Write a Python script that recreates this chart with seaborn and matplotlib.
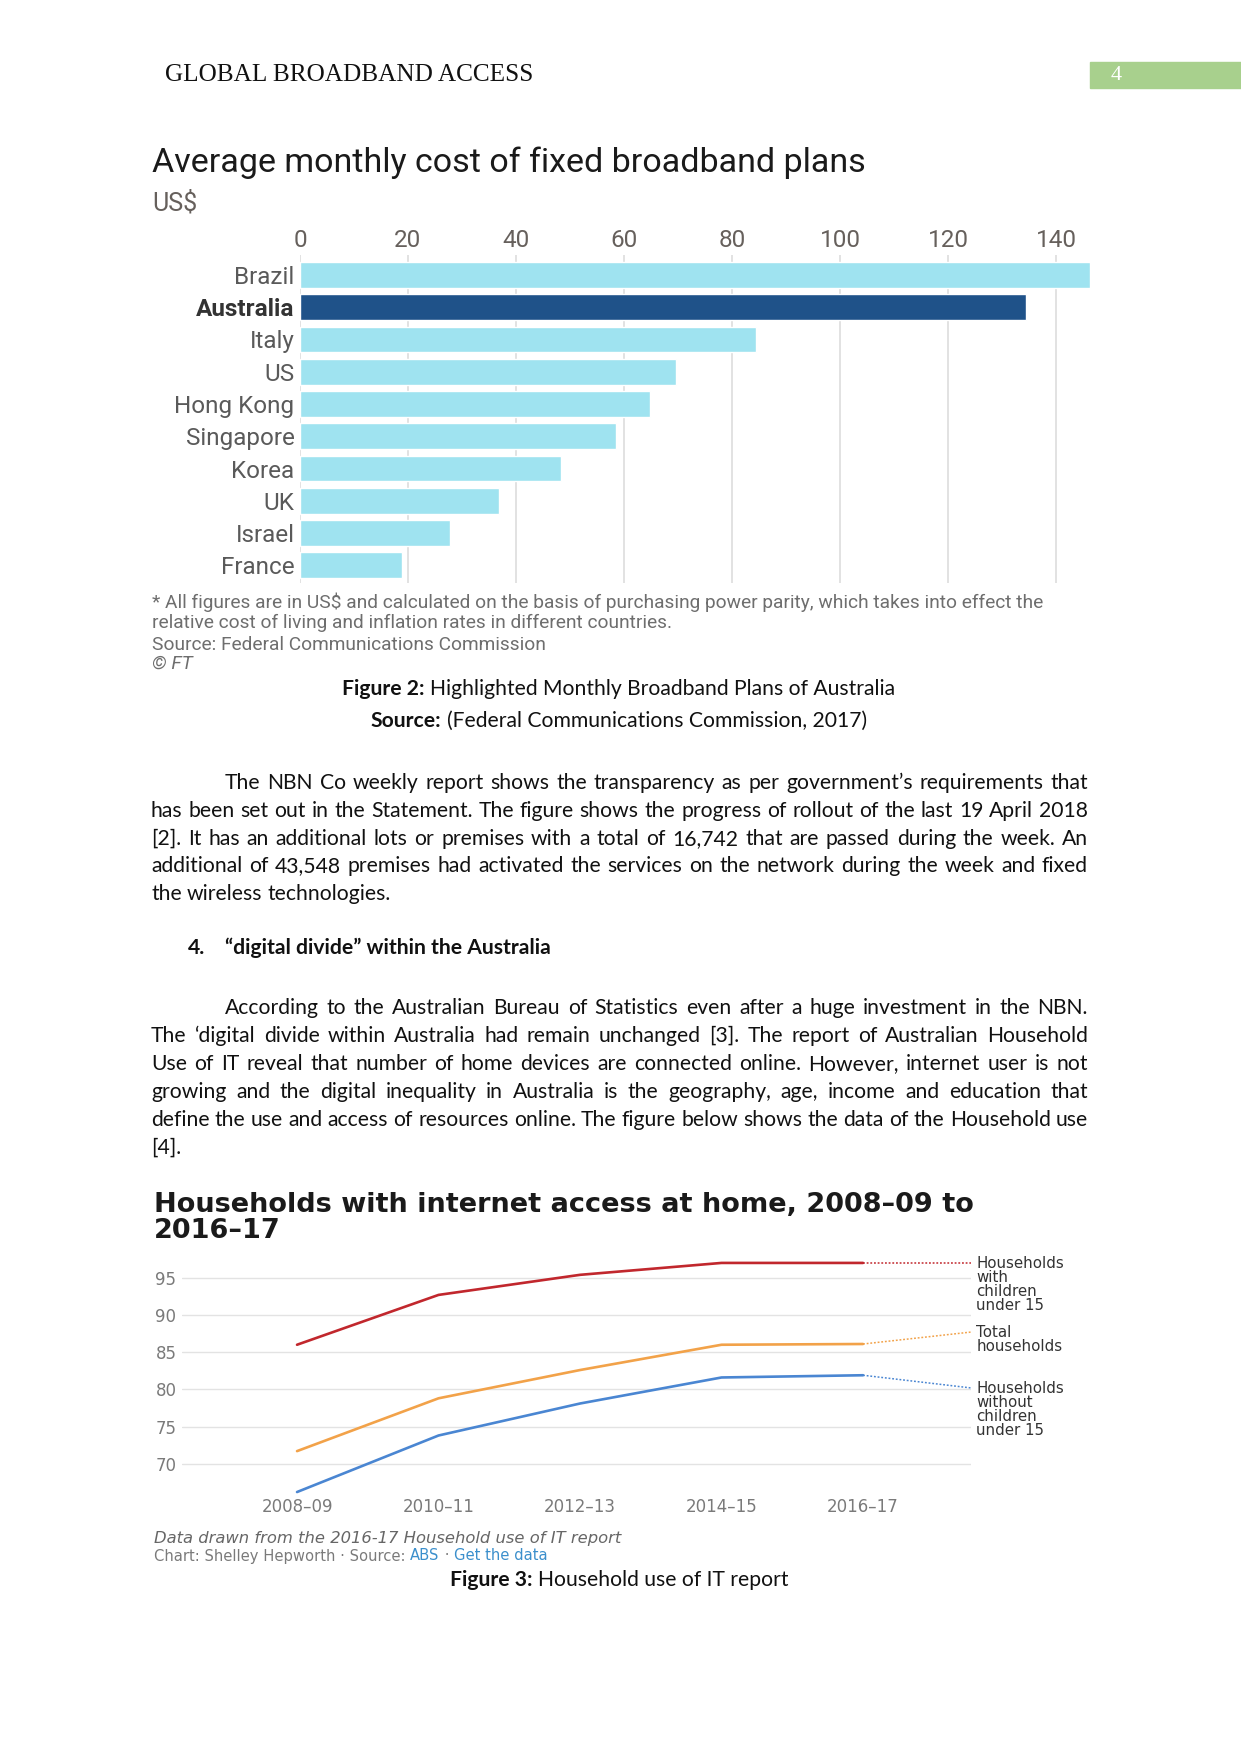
import numpy as np
import pandas as pd
import matplotlib
matplotlib.use("Agg")
import matplotlib.pyplot as plt
import seaborn as sns

# ── DATA ────────────────────────────────────────────────────────────────────
COUNTRIES = ["Brazil", "Australia", "Italy", "US", "Hong Kong",
             "Singapore", "Korea", "UK", "Israel", "France"]
COST_USD  = [146.3, 134.4, 84.4, 69.7, 64.9, 58.5, 48.3, 36.9, 27.8, 18.8]
COST_TICKS = [0, 20, 40, 60, 80, 100, 120, 140]

YEARS       = ["2008–09", "2010–11", "2012–13", "2014–15", "2016–17"]
WITH_KIDS   = [86.0, 92.7, 95.4, 97.0, 97.0]
TOTAL_HH    = [71.7, 78.8, 82.6, 86.0, 86.1]
NO_KIDS     = [66.2, 73.8, 78.1, 81.6, 81.9]
LABEL_ENDS  = [97.0, 87.7, 80.2]          # where the dotted leaders end
SERIES      = ["Households\nwith\nchildren\nunder 15",
               "Total\nhouseholds",
               "Households\nwithout\nchildren\nunder 15"]
HH_TICKS    = [70, 75, 80, 85, 90, 95]

PARA1 = ["The NBN Co weekly report shows the transparency as per government’s requirements that",
         "has been set out in the Statement. The figure shows the progress of rollout of the last 19 April 2018",
         "[2]. It has an additional lots or premises with a total of 16,742 that are passed during the week. An",
         "additional of 43,548 premises had activated the services on the network during the week and fixed",
         "the wireless technologies."]
PARA2 = ["According to the Australian Bureau of Statistics even after a huge investment in the NBN.",
         "The ‘digital divide within Australia had remain unchanged [3]. The report of Australian Household",
         "Use of IT reveal that number of home devices are connected online. However, internet user is not",
         "growing and the digital inequality in Australia is the geography, age, income and education that",
         "define the use and access of resources online. The figure below shows the data of the Household use",
         "[4]."]

# ── PAGE ────────────────────────────────────────────────────────────────────
sns.set_theme(style="white")
W, H = 1241, 1754
fig = plt.figure(figsize=(W / 100, H / 100), dpi=100, facecolor="white")
R = fig.canvas.get_renderer()


def fx(x):
    return x / W


def fy(y):
    return 1 - y / H


def ax_box(l, t, r, b):
    return [l / W, 1 - b / H, (r - l) / W, (b - t) / H]


def txt(x, y, s, **kw):
    return fig.text(fx(x), fy(y), s, **kw)


def width(s, **kw):
    t = fig.text(0, 0, s, **kw)
    w = t.get_window_extent(R).width
    t.remove()
    return w


BODY = dict(family="Lato", fontsize=15.2, color="#111111")


def justify(lines, y0, step, x0, x1, indent):
    sp = width("a a", **BODY) - width("aa", **BODY)
    for i, line in enumerate(lines):
        words = line.split(" ")
        ws = [width(w, **BODY) for w in words]
        left = x0 + (indent if i == 0 else 0)
        last = i == len(lines) - 1
        gap = sp if (last or len(words) < 2) else (x1 - left - sum(ws)) / (len(words) - 1)
        x = left
        for w, wd in zip(words, ws):
            txt(x, y0 + i * step, w, va="baseline", **BODY)
            x += wd + gap


def runs(xc, y, parts):
    ws = [width(s, **BODY, fontweight=fw) for s, fw in parts]
    sp = width("a a", **BODY) - width("aa", **BODY)
    x = xc - (sum(ws) + sp * (len(parts) - 1)) / 2
    for (s, fw), wd in zip(parts, ws):
        txt(x, y, s, va="baseline", fontweight=fw, **BODY)
        x += wd + sp


# header
txt(165, 75, "GLOBAL BROADBAND ACCESS", family="Liberation Serif", fontsize=18.2,
    va="center", color="#111111")
fig.patches.append(plt.Rectangle((fx(1090), fy(88)), 151 / W, 26 / H,
                                 transform=fig.transFigure, color="#a8d08d"))
txt(1111, 75, "4", family="Liberation Serif", fontsize=16, va="center", color="white")

# ── FIGURE 2 : bar chart ────────────────────────────────────────────────────
FT = "Roboto"
txt(152, 163, "Average monthly cost of fixed broadband plans", family=FT,
    fontsize=24.5, va="center", color="#1a1a1a")
txt(152, 203, "US$", family=FT, fontsize=18, va="center", color="#66605c")

ax1 = fig.add_axes(ax_box(300, 255, 1090, 583))
bars = pd.DataFrame({"country": COUNTRIES, "cost": COST_USD})
pal = {c: ("#1f5289" if c == "Australia" else "#9fe3f0") for c in COUNTRIES}
sns.barplot(data=bars, x="cost", y="country", hue="country", palette=pal,
            orient="h", width=0.8, saturation=1, legend=False, ax=ax1, zorder=3)
ax1.set_xlim(0, 146.3)
ax1.set_ylim(9.55, -0.62)
ax1.set_xticks(COST_TICKS)
ax1.xaxis.tick_top()
ax1.tick_params(axis="x", length=0, pad=2, labelsize=17.5, labelcolor="#66605c")
ax1.tick_params(axis="y", length=0, pad=4, labelsize=17.5, labelcolor="#5a5a5a")
for lab in ax1.get_xticklabels() + ax1.get_yticklabels():
    lab.set_family(FT)
for lab in ax1.get_yticklabels():
    if lab.get_text() == "Australia":
        lab.set_fontweight("bold")
        lab.set_color("#333333")
ax1.grid(axis="x", color="#dadada", linewidth=1.1, zorder=0)
ax1.grid(axis="y", visible=False)
ax1.set_xlabel("")
ax1.set_ylabel("")
for s in ax1.spines.values():
    s.set_visible(False)

NOTE = dict(family=FT, fontsize=13.8, color="#6e6e6e", va="center")
txt(152, 602, "* All figures are in US$ and calculated on the basis of purchasing power parity, "
              "which takes into effect the", **NOTE)
txt(152, 623, "relative cost of living and inflation rates in different countries.", **NOTE)
txt(152, 645, "Source: Federal Communications Commission", **NOTE)
txt(152, 664, "© FT", style="italic", **NOTE)

runs(619, 695, [("Figure 2:", "bold"), ("Highlighted Monthly Broadband Plans of Australia", "normal")])
runs(619, 727, [("Source:", "bold"), ("(Federal Communications Commission, 2017)", "normal")])

# ── BODY TEXT ───────────────────────────────────────────────────────────────
justify(PARA1, 789, 27.8, 151, 1088, 74)
txt(188, 954, "4.", va="baseline", fontweight="bold", **BODY)
txt(225, 954, "“digital divide” within the Australia", va="baseline", fontweight="bold", **BODY)
justify(PARA2, 1014, 27.9, 151, 1088, 74)

# ── FIGURE 3 : line chart ───────────────────────────────────────────────────
LC = "DejaVu Sans"
TT = dict(family=LC, fontsize=19.5, fontweight="bold", color="#1a1a1a", va="center")
txt(154, 1205, "Households with internet access at home, 2008–09 to", **TT)
txt(154, 1231, "2016–17", **TT)

ax2 = fig.add_axes(ax_box(182, 1254, 971, 1495))
xs = np.arange(len(YEARS))
lines = pd.DataFrame({
    "year": np.tile(xs, 3),
    "pct": WITH_KIDS + TOTAL_HH + NO_KIDS,
    "series": np.repeat(SERIES, len(YEARS)),
})
colors = ["#c1272d", "#f2a249", "#4a86d2"]
sns.lineplot(data=lines, x="year", y="pct", hue="series", palette=colors,
             linewidth=1.9, legend=False, ax=ax2, zorder=3)
x_lab = 4.76
for vals, end, c, name in zip([WITH_KIDS, TOTAL_HH, NO_KIDS], LABEL_ENDS, colors, SERIES):
    ax2.plot([xs[-1], x_lab], [vals[-1], end], color=c, linestyle=(0, (1.2, 1.2)),
             linewidth=1.1, zorder=3)
    ax2.annotate(name, (x_lab, end), xytext=(4, 5), textcoords="offset points",
                 va="top", ha="left",
                 family=LC, fontsize=10.8, color="#333333", linespacing=0.92,
                 annotation_clip=False)
ax2.set_xlim(-0.813, 4.763)
ax2.set_ylim(65.8, 98.2)
ax2.set_yticks(HH_TICKS)
ax2.set_xticks(xs)
ax2.set_xticklabels(YEARS)
ax2.tick_params(axis="both", length=0, labelsize=12, labelcolor="#7a7a7a")
ax2.tick_params(axis="x", pad=2)
ax2.tick_params(axis="y", pad=4)
ax2.grid(axis="y", color="#e3e3e3", linewidth=1.0, zorder=0)
ax2.grid(axis="x", visible=False)
ax2.set_xlabel("")
ax2.set_ylabel("")
ax2.patch.set_alpha(0)
for s in ax2.spines.values():
    s.set_visible(False)

txt(154, 1538, "Data drawn from the 2016-17 Household use of IT report", style="italic",
    color="#666666", family=LC, fontsize=11.8, va="center")
parts = [("Chart: Shelley Hepworth · Source: ", "#7a7a7a"), ("ABS", "#3b8fcc"),
         (" · ", "#7a7a7a"), ("Get the data", "#3b8fcc")]
x = 154
for s, c in parts:
    t = txt(x, 1556, s, color=c, family=LC, fontsize=10.6, va="center")
    x += t.get_window_extent(R).width

runs(619, 1586, [("Figure 3:", "bold"), ("Household use of IT report", "normal")])

fig.savefig("out.png", dpi=100, facecolor="white")
